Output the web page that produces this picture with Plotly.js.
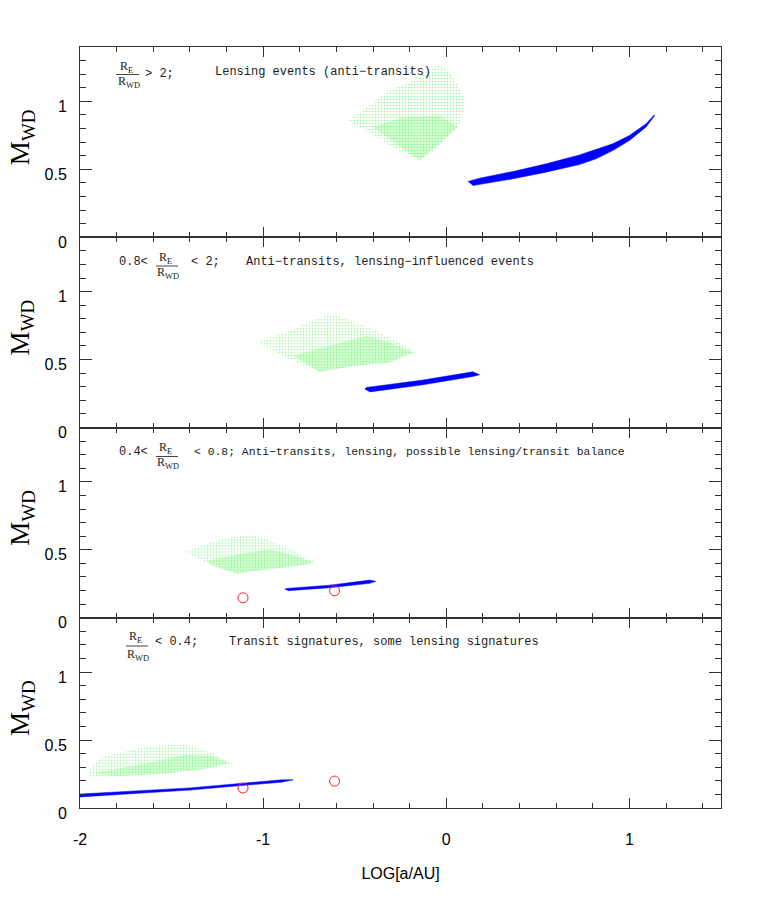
<!DOCTYPE html>
<html><head><meta charset="utf-8">
<script src="https://cdn.plot.ly/plotly-3.0.1.min.js"></script>
<style>body{margin:0;background:#fff}</style>
</head><body><div id="chart" style="width:761px;height:900px"></div>
<script>
// ---------- data ----------
const xTickVals = [-2, -1, 0, 1];
const xTickText = ['-2', '-1', '0', '1'];
const yTickVals = [0, 0.5, 1];
const yTickText = ['0', '0.5', '1'];
const xTitle = 'LOG[a/AU]';
const yTitle = 'M<sub>WD</sub>';

// panel 1 : RE/RWD > 2
const p1CloudX = [-0.536, -0.455, -0.327, -0.182, -0.10, -0.04, 0.03, 0.100, 0.082, -0.036, -0.145, -0.309, -0.436];
const p1CloudY = [0.859, 0.933, 1.068, 1.154, 1.22, 1.27, 1.20, 1.019, 0.847, 0.675, 0.564, 0.675, 0.786];
const p1CoreX = [-0.40, -0.236, -0.036, 0.064, -0.145];
const p1CoreY = [0.81, 0.884, 0.896, 0.81, 0.564];
const p1BandX = [0.118, 0.182, 0.364, 0.545, 0.727, 0.909, 1.0, 1.091, 1.136, 1.136, 1.091, 1.0, 0.909, 0.818, 0.727, 0.545, 0.364, 0.145];
const p1BandY = [0.410, 0.435, 0.484, 0.540, 0.606, 0.688, 0.749, 0.835, 0.901, 0.892, 0.811, 0.712, 0.638, 0.577, 0.535, 0.479, 0.430, 0.380];

// panel 2 : 0.8 < RE/RWD < 2
const p2CloudX = [-1.027, -0.855, -0.709, -0.618, -0.527, -0.4, -0.273, -0.164, -0.309, -0.491, -0.691, -0.855, -0.964];
const p2CloudY = [0.631, 0.712, 0.798, 0.835, 0.786, 0.724, 0.638, 0.553, 0.479, 0.454, 0.41, 0.503, 0.577];
const p2CoreX = [-0.836, -0.673, -0.436, -0.309, -0.182, -0.309, -0.491, -0.691];
const p2CoreY = [0.528, 0.589, 0.675, 0.626, 0.553, 0.479, 0.454, 0.41];
const p2BandX = [-0.445, -0.436, -0.127, 0.145, 0.182, 0.145, -0.127, -0.418];
const p2BandY = [0.282, 0.295, 0.349, 0.41, 0.388, 0.376, 0.314, 0.262];

// panel 3 : 0.4 < RE/RWD < 0.8
const p3CloudX = [-1.427, -1.291, -1.145, -1.073, -0.982, -0.873, -0.782, -0.7, -0.818, -0.964, -1.145, -1.273, -1.364];
const p3CloudY = [0.486, 0.553, 0.601, 0.614, 0.577, 0.516, 0.454, 0.405, 0.38, 0.356, 0.326, 0.38, 0.442];
const p3CoreX = [-1.309, -1.145, -0.964, -0.818, -0.727, -0.818, -0.964, -1.145, -1.273];
const p3CoreY = [0.417, 0.466, 0.503, 0.454, 0.405, 0.38, 0.356, 0.326, 0.38];
const p3BandX = [-0.882, -0.873, -0.636, -0.418, -0.385, -0.418, -0.636, -0.864];
const p3BandY = [0.209, 0.216, 0.240, 0.277, 0.268, 0.253, 0.221, 0.199];

// panel 4 : RE/RWD < 0.4
const p4CloudX = [-1.955, -1.955, -1.891, -1.745, -1.636, -1.491, -1.418, -1.309, -1.164, -1.345, -1.564, -1.8];
const p4CloudY = [0.221, 0.282, 0.368, 0.417, 0.454, 0.466, 0.466, 0.417, 0.324, 0.282, 0.25, 0.233];
const p4CoreX = [-1.927, -1.673, -1.418, -1.273, -1.182, -1.345, -1.564, -1.8];
const p4CoreY = [0.258, 0.319, 0.393, 0.38, 0.332, 0.282, 0.25, 0.233];
const p4BandX = [-2.0, -1.4, -0.9, -0.836, -0.9, -1.4, -2.0];
const p4BandY = [0.103, 0.148, 0.207, 0.207, 0.19, 0.132, 0.081];

// observed systems (red circles, panels 3 and 4)
const obsX = [-1.11, -0.61];
const obsY = [0.147, 0.198];

// panel labels
const fracNum = 'R<sub>E</sub>';
const fracDen = 'R<sub>WD</sub>';
const panelPre = ['', '0.8<', '0.4<', ''];
const panelPost = ['> 2;', '< 2;', '< 0.8; Anti\u2212transits, lensing, possible lensing/transit balance', '< 0.4;'];
const panelDesc = ['Lensing events (anti\u2212transits)', 'Anti\u2212transits, lensing\u2212influenced events', '', 'Transit signatures, some lensing signatures'];

// ---------- styling / layout ----------
const GREEN = '#22ee22', BLUE = '#0000ff', RED = '#ff2020', INK = '#333333';
const L = 80, R = 40, T = 47, B = 92, W = 761, H = 900;
const PW = W - L - R, PH = H - T - B;
function px(x) { return (x - L) / PW; }
function py(y) { return (H - B - y) / PH; }

const clouds = [[p1CloudX, p1CloudY, p1CoreX, p1CoreY, p1BandX, p1BandY],
                [p2CloudX, p2CloudY, p2CoreX, p2CoreY, p2BandX, p2BandY],
                [p3CloudX, p3CloudY, p3CoreX, p3CoreY, p3BandX, p3BandY],
                [p4CloudX, p4CloudY, p4CoreX, p4CoreY, p4BandX, p4BandY]];

const traces = [];
clouds.forEach((c, i) => {
  const xa = 'x' + (i ? i + 1 : ''), ya = 'y' + (i ? i + 1 : '');
  traces.push({x: c[0], y: c[1], xaxis: xa, yaxis: ya, type: 'scatter', mode: 'lines', fill: 'toself',
    line: {width: 0, color: 'rgba(0,0,0,0)'}, fillcolor: 'rgba(0,0,0,0)',
    fillpattern: {shape: '.', fgcolor: GREEN, bgcolor: 'rgba(0,0,0,0)', size: 3, solidity: 0.22, fillmode: 'overlay'},
    hoverinfo: 'skip', showlegend: false});
  traces.push({x: c[2], y: c[3], xaxis: xa, yaxis: ya, type: 'scatter', mode: 'lines', fill: 'toself',
    line: {width: 0, color: 'rgba(0,0,0,0)'}, fillcolor: 'rgba(0,0,0,0)',
    fillpattern: {shape: '.', fgcolor: GREEN, bgcolor: 'rgba(0,0,0,0)', size: 2, solidity: 0.4, fillmode: 'overlay'},
    hoverinfo: 'skip', showlegend: false});
  traces.push({x: c[4], y: c[5], xaxis: xa, yaxis: ya, type: 'scatter', mode: 'lines', fill: 'toself',
    line: {width: 0.5, color: BLUE}, fillcolor: BLUE, hoverinfo: 'skip', showlegend: false});
  if (i >= 2) {
    traces.push({x: obsX, y: obsY, xaxis: xa, yaxis: ya, type: 'scatter', mode: 'markers',
      marker: {symbol: 'circle-open', size: 10, color: RED, line: {width: 1, color: RED}},
      hoverinfo: 'skip', showlegend: false});
  }
});

const layout = {
  width: W, height: H, margin: {l: L, r: R, t: T, b: B},
  paper_bgcolor: '#fff', plot_bgcolor: '#fff', showlegend: false,
  annotations: [], shapes: []
};
const tickFont = {family: 'Liberation Sans, Arial, sans-serif', size: 16, color: '#000'};
for (let i = 0; i < 4; i++) {
  const s = i ? String(i + 1) : '';
  layout['xaxis' + s] = {
    domain: [0, 1], range: [-2, 1.5], anchor: 'y' + s, matches: i ? 'x' : undefined,
    tickmode: 'array', tickvals: xTickVals, ticktext: xTickText, showticklabels: i === 3,
    ticks: 'inside', ticklen: 10, tickwidth: 1, tickcolor: INK,
    minor: {ticks: 'inside', dtick: 0.2, tick0: -2, ticklen: 5, tickwidth: 1, tickcolor: INK},
    showline: true, linecolor: INK, linewidth: 1, mirror: 'ticks',
    showgrid: false, zeroline: false, tickfont: tickFont, ticklabelstandoff: 17,
    title: i === 3 ? {text: xTitle, font: {family: 'Liberation Sans, Arial, sans-serif', size: 16, color: '#000'}, standoff: 20} : undefined
  };
  layout['yaxis' + s] = {
    domain: [(3 - i) * 0.25, (4 - i) * 0.25], range: [0, 1.4], anchor: 'x' + s,
    tickmode: 'array', tickvals: yTickVals, ticktext: yTickText,
    ticks: 'inside', ticklen: 12, tickwidth: 1, tickcolor: INK,
    minor: {ticks: 'inside', dtick: 0.1, tick0: 0, ticklen: 6, tickwidth: 1, tickcolor: INK},
    showline: true, linecolor: INK, linewidth: 1, mirror: 'ticks',
    showgrid: false, zeroline: false, tickfont: tickFont, ticklabelstandoff: 9, ticklabelshift: 5
  };
  // y title
  const top = T + i * PH / 4;
  layout.annotations.push({xref: 'paper', yref: 'paper', x: px(22), y: py(top + PH / 8 - 5),
    text: yTitle, textangle: -90, showarrow: false, xanchor: 'center', yanchor: 'middle',
    font: {family: 'Liberation Serif, Times New Roman, serif', size: 27, color: '#000'}});
}

// panel label geometry (pixel positions of the fraction and texts)
const lab = [
  {pre: null, numX: 126, numY: 67, barX0: 116, barX1: 139, barY: 74.5, denY: 82, postX: 143, postY: 74, descX: 213, descY: 72},
  {pre: [117, 262], numX: 165, numY: 258, barX0: 156, barX1: 178, barY: 266, denY: 273, postX: 189, postY: 262, descX: 244, descY: 262},
  {pre: [117, 452], numX: 165, numY: 448, barX0: 156, barX1: 178, barY: 456.5, denY: 463, postX: 192, postY: 452, descX: 0, descY: 0},
  {pre: null, numX: 135, numY: 637, barX0: 126, barX1: 148, barY: 646, denY: 655, postX: 153, postY: 642, descX: 227, descY: 642}
];
const monoFont = (sz) => ({family: 'Liberation Mono, Courier New, monospace', size: sz, color: '#222'});
const serifSmall = {family: 'Liberation Serif, Times New Roman, serif', size: 12, color: '#222'};
lab.forEach((g, i) => {
  if (g.pre) layout.annotations.push({xref: 'paper', yref: 'paper', x: px(g.pre[0]), y: py(g.pre[1]), text: panelPre[i],
    showarrow: false, xanchor: 'left', yanchor: 'middle', font: monoFont(12)});
  layout.annotations.push({xref: 'paper', yref: 'paper', x: px(g.numX), y: py(g.numY), text: fracNum,
    showarrow: false, xanchor: 'center', yanchor: 'middle', font: serifSmall});
  layout.annotations.push({xref: 'paper', yref: 'paper', x: px(g.numX + 3), y: py(g.denY), text: fracDen,
    showarrow: false, xanchor: 'center', yanchor: 'middle', font: serifSmall});
  layout.shapes.push({type: 'line', xref: 'paper', yref: 'paper', x0: px(g.barX0), x1: px(g.barX1), y0: py(g.barY), y1: py(g.barY),
    line: {color: '#444', width: 1}});
  layout.annotations.push({xref: 'paper', yref: 'paper', x: px(g.postX), y: py(g.postY), text: panelPost[i],
    showarrow: false, xanchor: 'left', yanchor: 'middle', font: monoFont(i === 2 ? 11.4 : 12)});
  if (panelDesc[i]) layout.annotations.push({xref: 'paper', yref: 'paper', x: px(g.descX), y: py(g.descY), text: panelDesc[i],
    showarrow: false, xanchor: 'left', yanchor: 'middle', font: monoFont(12)});
});

Plotly.newPlot('chart', traces, layout, {staticPlot: true, displayModeBar: false});
</script></body></html>
